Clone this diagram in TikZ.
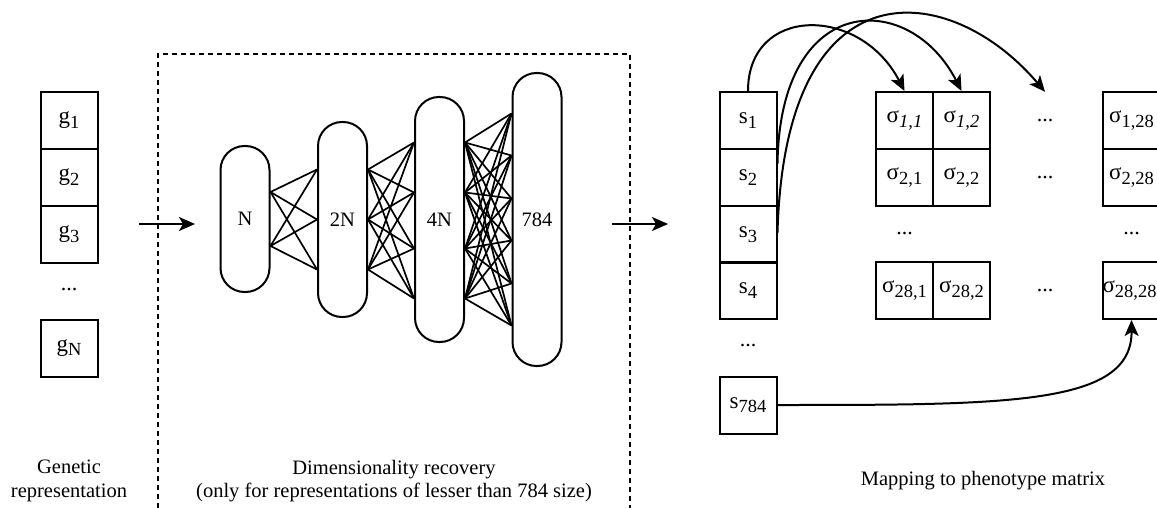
\documentclass[tikz,border=0pt]{standalone}
\usepackage{fontspec}
\setmainfont{Liberation Serif}
\usetikzlibrary{positioning, arrows.meta, shapes, calc}

\newcommand{\idx}[1]{\raisebox{-4.5pt}{\fontsize{18.5}{18.5}\selectfont #1}}

\tikzset{
	cell/.style={draw, line width=2pt, minimum width=57pt, minimum height=57pt, inner sep=0pt, font=\fontsize{23}{26}\selectfont},
	layer/.style={draw, line width=2pt, rounded corners=24pt, minimum width=49pt, inner sep=0pt},
	link/.style={line width=1.7pt},
	flow/.style={line width=2pt, -{Stealth[length=16pt,width=14pt,inset=4pt]}},
	dots/.style={inner sep=0pt, minimum height=57pt, font=\fontsize{22}{24}\selectfont},
	caption/.style={align=center, inner sep=0pt}
}

\begin{document}
\begin{tikzpicture}[x=1pt, y=-1pt, font=\fontsize{20.5}{23.5}\selectfont]
\useasboundingbox (0,0) rectangle (1157,508);

% genetic representation
\node[cell](g1) at (69,120.5) {g\idx{1}};
\node[cell](g2) at (69,177.5) {g\idx{2}};
\node[cell](g3) at (69,234.5) {g\idx{3}};
\node[dots](gd) at (69,290) {...};
\node[cell](gN) at (69,348) {g\idx{N}};

% dimensionality recovery
\draw[line width=2pt, dash pattern=on 5pt off 4pt] (158,508) -- (158,54) -- (630,54) -- (630,508);
\node[layer, minimum height=146pt](n1) at (245,219) {N};
\node[layer, minimum height=195pt](n2) at (342.5,219.5) {2N};
\node[layer, minimum height=245pt](n3) at (439.5,219.5) {4N};
\node[layer, minimum height=293pt](n4) at (537,219.5) {784};

\foreach \a in {-27,27}
	\foreach \b in {-50,0,50}
		\draw[link] ($(n1.east)+(0,\a)$) -- ($(n2.west)+(0,\b)$);
\foreach \a in {-50,0,50}
	\foreach \b in {-77,-27,29,79}
		\draw[link] ($(n2.east)+(0,\a)$) -- ($(n3.west)+(0,\b)$);
\foreach \a in {-77,-27,29,79}
	\foreach \b in {-106,-64,-21,21,64,106}
		\draw[link] ($(n3.east)+(0,\a)$) -- ($(n4.west)+(0,\b)$);

\coordinate (in1) at (139,224);
\coordinate (in2) at (195,224);
\coordinate (out1) at (612,224);
\coordinate (out2) at (668,224);
\draw[flow] (in1) -- (in2);
\draw[flow] (out1) -- (out2);

% phenotype mapping
\node[cell](s1) at (748,120.5) {s\idx{1}};
\node[cell](s2) at (748,177.5) {s\idx{2}};
\node[cell](s3) at (748,234.5) {s\idx{3}};
\node[cell](s4) at (748,290.5) {s\idx{4}};
\node[dots](sd) at (748,346) {...};
\node[cell](s784) at (748,405) {s\idx{784}};

\node[cell](m11) at (904.5,120.5) {σ\idx{\textit{1,1}}};
\node[cell](m12) at (961.5,120.5) {σ\idx{\textit{1,2}}};
\node[cell](m21) at (904.5,177.5) {σ\idx{2,1}};
\node[cell](m22) at (961.5,177.5) {σ\idx{2,2}};
\node[dots](mc1) at (904.5,234) {...};
\node[cell](m281) at (904.5,290.5) {σ\idx{28,1}};
\node[cell](m282) at (961.5,290.5) {σ\idx{28,2}};

\node[dots](mr1) at (1045,120.5) {...};
\node[dots](mr2) at (1045,177.5) {...};
\node[dots](mr28) at (1045,290.5) {...};

\node[cell](m128) at (1131.5,120.5) {σ\idx{1,28}};
\node[cell](m228) at (1131.5,177.5) {σ\idx{2,28}};
\node[dots](mc28) at (1131.5,234) {...};
\node[cell](m2828) at (1131.5,290.5) {σ\idx{28,28}\hspace*{4pt}};

\draw[flow] (s1.north) .. controls (748,5) and (860,5) .. (m11.north);
\draw[flow] ([yshift=14pt]s2.east) .. controls (780,-10) and (910,-10) .. (m12.north);
\draw[flow] ([yshift=2pt]s3.east) .. controls (785,-40) and (950,-20) .. (mr1.north);
\draw[flow] (s784.east) .. controls (1010,405) and (1132,405) .. (m2828.south);

% captions
\node[caption](capg) at (69,481) {Genetic\\representation};
\node[caption](capd) at (394,481) {Dimensionality recovery\\(only for representations of lesser than 784 size)};
\node[caption](capm) at (983,481) {Mapping to phenotype matrix};
\end{tikzpicture}
\end{document}
